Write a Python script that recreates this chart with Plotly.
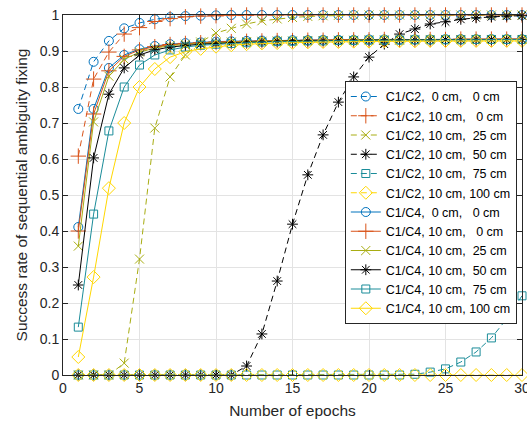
import plotly.graph_objects as go

epochs = list(range(1, 31))

names = [
    "C1/C2,  0 cm,   0 cm",
    "C1/C2, 10 cm,   0 cm",
    "C1/C2, 10 cm,  25 cm",
    "C1/C2, 10 cm,  50 cm",
    "C1/C2, 10 cm,  75 cm",
    "C1/C2, 10 cm, 100 cm",
    "C1/C4,  0 cm,   0 cm",
    "C1/C4, 10 cm,   0 cm",
    "C1/C4, 10 cm,  25 cm",
    "C1/C4, 10 cm,  50 cm",
    "C1/C4, 10 cm,  75 cm",
    "C1/C4, 10 cm, 100 cm",
]

c2_0_0 = [0.739, 0.870, 0.928, 0.963, 0.978, 0.988, 0.994, 0.997, 0.998, 0.999,
          1.0, 1.0, 1.0, 1.0, 1.0, 1.0, 1.0, 1.0, 1.0, 1.0,
          1.0, 1.0, 1.0, 1.0, 1.0, 1.0, 1.0, 1.0, 1.0, 1.0]
c2_10_0 = [0.608, 0.822, 0.897, 0.947, 0.965, 0.982, 0.990, 0.995, 0.997, 0.998,
           0.999, 1.0, 1.0, 1.0, 1.0, 1.0, 1.0, 1.0, 1.0, 1.0,
           1.0, 1.0, 1.0, 1.0, 1.0, 1.0, 1.0, 1.0, 1.0, 1.0]
c2_10_25 = [0.0, 0.0, 0.0, 0.033, 0.322, 0.686, 0.828, 0.889, 0.925, 0.950,
            0.963, 0.975, 0.984, 0.989, 0.993, 0.996, 0.998, 0.999, 1.0, 1.0,
            1.0, 1.0, 1.0, 1.0, 1.0, 1.0, 1.0, 1.0, 1.0, 1.0]
c2_10_50 = [0.0, 0.0, 0.0, 0.0, 0.0, 0.0, 0.0, 0.0, 0.0, 0.0,
            0.0, 0.025, 0.114, 0.261, 0.419, 0.556, 0.667, 0.758, 0.828, 0.883,
            0.919, 0.947, 0.961, 0.975, 0.981, 0.988, 0.992, 0.995, 0.997, 0.998]
c2_10_75 = [0.0, 0.0, 0.0, 0.0, 0.0, 0.0, 0.0, 0.0, 0.0, 0.0,
            0.0, 0.0, 0.0, 0.0, 0.0, 0.0, 0.0, 0.0, 0.0, 0.0,
            0.0, 0.0, 0.002, 0.008, 0.017, 0.036, 0.064, 0.103, 0.156, 0.220]
c2_10_100 = [0.0] * 30

c4_0_0 = [0.411, 0.739, 0.853, 0.889, 0.905, 0.914, 0.919, 0.922, 0.924, 0.926,
          0.927, 0.928, 0.929, 0.929, 0.930, 0.930, 0.931, 0.931, 0.931, 0.932,
          0.932, 0.932, 0.932, 0.932, 0.933, 0.933, 0.933, 0.933, 0.933, 0.933]
c4_10_0 = [0.400, 0.725, 0.845, 0.885, 0.903, 0.912, 0.918, 0.921, 0.923, 0.925,
           0.926, 0.927, 0.928, 0.929, 0.929, 0.930, 0.930, 0.931, 0.931, 0.931,
           0.932, 0.932, 0.932, 0.932, 0.932, 0.933, 0.933, 0.933, 0.933, 0.933]
c4_10_25 = [0.358, 0.703, 0.830, 0.877, 0.897, 0.908, 0.915, 0.919, 0.921, 0.923,
            0.925, 0.926, 0.927, 0.928, 0.928, 0.929, 0.929, 0.930, 0.930, 0.931,
            0.931, 0.931, 0.931, 0.932, 0.932, 0.932, 0.932, 0.932, 0.932, 0.932]
c4_10_50 = [0.250, 0.603, 0.780, 0.853, 0.889, 0.903, 0.911, 0.916, 0.919, 0.921,
            0.923, 0.925, 0.926, 0.927, 0.928, 0.928, 0.929, 0.929, 0.930, 0.930,
            0.931, 0.931, 0.931, 0.931, 0.932, 0.932, 0.932, 0.932, 0.932, 0.932]
c4_10_75 = [0.133, 0.447, 0.678, 0.800, 0.861, 0.889, 0.903, 0.911, 0.916, 0.919,
            0.921, 0.923, 0.925, 0.926, 0.927, 0.928, 0.928, 0.929, 0.929, 0.930,
            0.930, 0.930, 0.931, 0.931, 0.931, 0.931, 0.932, 0.932, 0.932, 0.932]
c4_10_100 = [0.050, 0.272, 0.519, 0.700, 0.800, 0.850, 0.883, 0.898, 0.906, 0.912,
             0.916, 0.919, 0.921, 0.922, 0.923, 0.924, 0.925, 0.925, 0.926, 0.926,
             0.927, 0.927, 0.927, 0.928, 0.928, 0.928, 0.928, 0.928, 0.928, 0.928]

series = [c2_0_0, c2_10_0, c2_10_25, c2_10_50, c2_10_75, c2_10_100,
          c4_0_0, c4_10_0, c4_10_25, c4_10_50, c4_10_75, c4_10_100]

colors = ["#0072BD", "#D95319", "#A8AD12", "#000000", "#1A8C99", "#FFD700"]
symbols = ["circle-open", "cross-thin-open", "x-thin-open",
           "asterisk-open", "square-open", "diamond-open"]
sizes = [9, 11, 9, 9, 8, 10]

fig = go.Figure()
for i, (nm, ys) in enumerate(zip(names, series)):
    k = i % 6
    dashed = i < 6
    fig.add_trace(go.Scatter(
        x=epochs, y=ys, name=nm.replace(" ", "\u00a0"),
        mode="lines+markers",
        line=dict(color=colors[k], width=1, dash="6px,4px" if dashed else "solid"),
        marker=dict(symbol=symbols[k], size=sizes[k], color=colors[k],
                    line=dict(color=colors[k], width=1)),
        cliponaxis=False,
    ))

axis_common = dict(
    showline=True, linecolor="#262626", linewidth=1, mirror="ticks",
    ticks="inside", ticklen=5, tickcolor="#262626", tickwidth=1,
    showgrid=True, gridcolor="#E3E3E3", gridwidth=1, zeroline=False,
    ticklabeloverflow="allow",
    tickfont=dict(family="Liberation Sans, Arial", size=14, color="#262626"),
)

fig.update_layout(
    width=527, height=424,
    margin=dict(l=63, r=5, t=15, b=49, autoexpand=False),
    paper_bgcolor="white", plot_bgcolor="white",
    font=dict(family="Liberation Sans, Arial", color="#262626"),
    xaxis=dict(range=[0, 30], dtick=5, tick0=0,
               title=dict(text="Number of epochs", standoff=10,
                          font=dict(size=15.5, color="#262626")),
               **axis_common),
    yaxis=dict(range=[0, 1], dtick=0.1, tick0=0,
               tickformat=".1~f",
               title=dict(text="Success rate of sequential ambiguity fixing", standoff=8,
                          font=dict(size=15.5, color="#262626")),
               **axis_common),
    legend=dict(x=0.614, y=0.817, xanchor="left", yanchor="top",
                bgcolor="white", bordercolor="#262626", borderwidth=1,
                font=dict(family="Liberation Sans, Arial", size=12.5, color="#000000"),
                tracegroupgap=0, itemwidth=30),
    showlegend=True,
)

fig.write_html("out.html", config={"displayModeBar": False},
               post_script="document.body.style.margin='0';")
